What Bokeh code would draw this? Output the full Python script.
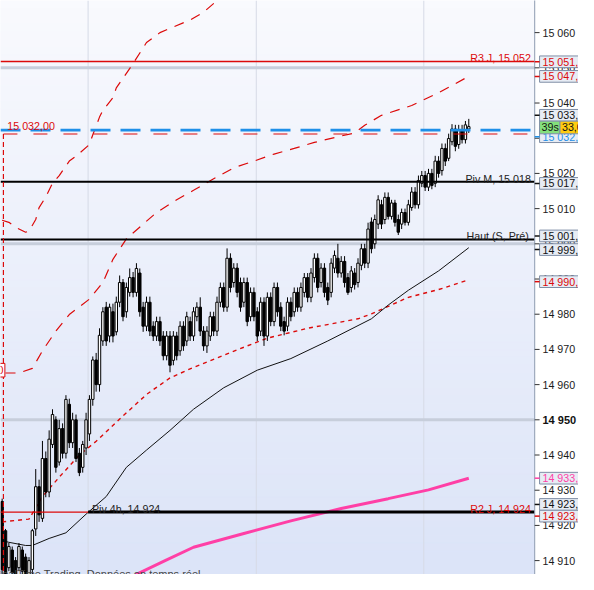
import numpy as np
from bokeh.plotting import figure
from bokeh.models import Range1d
from bokeh.core.properties import value
from bokeh.embed import file_html
from bokeh.resources import INLINE

FONT = value("Liberation Sans")

# ---------------- data ----------------
opens = [14926.8, 14918.5, 14908, 14913, 14910, 14908, 14913, 14911, 14906, 14907.5,
         14919, 14931, 14922, 14939, 14929.5, 14943, 14950, 14938, 14947.5, 14940.5,
         14954.4, 14943.5, 14950, 14940.5, 14936.5, 14942, 14946, 14955.8, 14967, 14960,
         14972.4, 14982, 14973.8, 14980.7, 14975, 14983.4, 14989, 14980.7, 14986.2, 14990.4,
         14986.2, 14991.7, 14982, 14976.6, 14983.4, 14976.6, 14973.8, 14977.9, 14973.8, 14968.2,
         14973.8, 14966.9, 14973.8, 14969.6, 14976.6, 14972.4, 14977.9, 14973.8, 14979.3, 14982,
         14975.2, 14971, 14973.8, 14979.3, 14975.2, 14983.4, 14987.6, 14982, 14995.9, 14989,
         14993.1, 14989, 14983.4, 14989, 14979.3, 14986.2, 14980.7, 14975.2, 14983.4, 14973.8,
         14984.8, 14977.9, 14987.6, 14982, 14977.9, 14976.6, 14983.4, 14980.7, 14986.2, 14982,
         14986.2, 14990.4, 14984.8, 14990.4, 14995.9, 14989, 14993.1, 14987.6, 14986.2, 14993.1,
         14995.9, 14991.7, 14995, 14990.4, 14987.6, 14991.7, 14989, 14993.9, 14998.6, 14994.5,
         15006.2, 15000, 15005.6, 15011.1, 15006.9, 15013.2, 15007.8, 15011.6, 15006.9, 15005.6,
         15008.9, 15006.1, 15010.3, 15014.7, 15011.1, 15017.2, 15019.4, 15016.1, 15020, 15017.2,
         15023.5, 15020.8, 15027.1, 15024.3, 15029, 15032.6, 15028.2, 15032.4, 15029.6, 15032.6]
highs = [14927.6, 14919, 14915, 14914, 14911, 14915, 14914, 14912, 14911, 14919,
         14936, 14933, 14944, 14941, 14947, 14953, 14951, 14950, 14949, 14957,
         14956, 14952, 14951.5, 14942, 14944, 14952, 14957, 14968, 14969, 14976,
         14982, 14983.5, 14983, 14983, 14985, 14991, 14990, 14989, 14993, 14992,
         14994.5, 14993, 14983.5, 14985, 14985, 14978, 14979.3, 14979.3, 14975.2, 14975.2,
         14975.2, 14975.2, 14975, 14978, 14978, 14980.7, 14979.3, 14982, 14983.4, 14984.8,
         14976.6, 14976.6, 14980.7, 14980.7, 14985, 14989, 14989, 14998.7, 14997.3, 14994.5,
         14994.5, 14990.4, 14990.4, 14990.4, 14987.6, 14987.6, 14982, 14984.8, 14984.8, 14986.2,
         14986.2, 14989, 14989, 14983.4, 14979.3, 14984.8, 14984.8, 14987.6, 14987.6, 14989,
         14991.7, 14991.7, 14993.1, 14997.3, 14997.3, 14994.5, 14994.5, 14989, 14995.9, 14998.1,
         15000, 14996.5, 14996.5, 14991.7, 14993.7, 14993.1, 14995.9, 15000, 15000, 15006,
         15007.5, 15008.3, 15013.8, 15012.5, 15014.6, 15014.6, 15012.5, 15012.5, 15008.3, 15010,
         15010, 15012.5, 15016.1, 15016.1, 15019.4, 15020.7, 15020.7, 15021.3, 15021.3, 15025,
         15024.9, 15028.5, 15028.5, 15031.3, 15034, 15033.8, 15033.8, 15033.8, 15034.9, 15035.5]
lows = [14905.5, 14905, 14907, 14905.5, 14905, 14907, 14905, 14905, 14905, 14906,
        14917, 14921, 14921, 14928, 14928, 14942, 14935, 14937, 14939, 14939,
        14942, 14942, 14938, 14934, 14935, 14940, 14944, 14954, 14958, 14958,
        14971, 14971, 14972, 14972, 14974, 14982, 14978, 14979, 14985, 14984.8,
        14985, 14979.3, 14975, 14975.2, 14973.8, 14972.4, 14972.4, 14971, 14966.9, 14966.9,
        14963.5, 14965.5, 14966.9, 14968.2, 14969.6, 14971, 14972.4, 14972.4, 14978, 14973.8,
        14969.6, 14969, 14972.4, 14973.8, 14973.8, 14982, 14980.7, 14980.7, 14986.2, 14987.6,
        14984.8, 14980.7, 14982, 14976.6, 14978, 14978, 14972.4, 14973.8, 14971, 14972.4,
        14976.6, 14976.6, 14979.3, 14975.2, 14974, 14975.2, 14978, 14979.3, 14980.7, 14980.7,
        14984.8, 14983.4, 14983.4, 14989, 14986.2, 14987.6, 14984.8, 14982.6, 14984.8, 14991.7,
        14990.4, 14990.4, 14987.6, 14985.5, 14986.2, 14987, 14987.6, 14992.5, 14993.1, 14993.1,
        14997.3, 14998.6, 15004.2, 15004.2, 15005.6, 15006.9, 15006.9, 15004.9, 15002.5, 15004.2,
        15005.2, 15005.2, 15009.4, 15010, 15010, 15016.1, 15015, 15015, 15015.5, 15016.1,
        15018.8, 15019.4, 15022.1, 15023.5, 15028, 15026.3, 15027, 15028.5, 15028.5, 15031.5]
closes = [14907.4, 14906, 14914, 14906.5, 14906, 14914, 14907, 14906, 14910, 14918.5,
          14931, 14923, 14939, 14929.5, 14944.5, 14951.5, 14936.5, 14947.5, 14940.5, 14955.8,
          14943.5, 14950, 14939, 14935, 14943, 14950, 14955.8, 14967, 14960, 14974,
          14980.7, 14972.4, 14982, 14973.8, 14983.4, 14989, 14979.3, 14987.6, 14990.4, 14986.2,
          14993, 14980.7, 14976.6, 14983.4, 14975.2, 14973.8, 14977.9, 14972.4, 14968.2, 14973.8,
          14965.5, 14973.8, 14968.2, 14976.6, 14971, 14979.3, 14973.8, 14980.7, 14982, 14975.2,
          14971, 14975.2, 14979.3, 14975.2, 14983.4, 14987.6, 14982, 14995.9, 14987.6, 14993.1,
          14986.2, 14982, 14989, 14977.9, 14986.2, 14979.3, 14973.8, 14983.4, 14973.8, 14984.8,
          14977.9, 14987.6, 14980.7, 14976.6, 14975.2, 14983.4, 14979.3, 14986.2, 14982, 14987.6,
          14990.4, 14984.8, 14991.7, 14995.9, 14987.6, 14993.1, 14986.2, 14984, 14994.5, 14996.7,
          14991.7, 14995, 14989, 14986.2, 14992.3, 14988.4, 14994.5, 14998.6, 14994.5, 15004.2,
          14998.6, 15006.9, 15012.5, 15005.6, 15013.2, 15007.8, 15011.6, 15006.1, 15003.3, 15008.9,
          15006.1, 15011.1, 15014.7, 15011.1, 15018, 15019.4, 15016.1, 15020, 15016.6, 15023.5,
          15020, 15027.1, 15023.5, 15029.9, 15032.6, 15027.7, 15032.4, 15029.6, 15033.8, 15033.3]

# indicator curves (candle index, price)
upper_idx = [0, 2, 4, 7, 8, 10, 11, 13, 15, 17, 20, 22, 26, 27, 29, 30, 33, 34, 39, 43, 47, 49, 56, 60, 64]
upper_val = [15006.7, 15006.1, 15004.7, 15003.3, 15003.6, 15006.9, 15010.3, 15013.3, 15017.2, 15019.4,
             15023.5, 15024.9, 15028.2, 15031.0, 15036.0, 15037.9, 15041.5, 15044.3, 15051.2, 15057.2,
             15060.0, 15060.8, 15063.6, 15065.8, 15069.1]
middle_idx = [1, 5, 9, 12, 16, 20, 26, 30, 33, 37, 42, 46, 52, 57, 63, 69, 75, 81, 87, 93, 99, 105, 108,
              113, 122, 130, 139]
middle_val = [14963.3, 14963.3, 14964.6, 14969.6, 14975.2, 14979.9, 14984.3, 14989.0, 14995.6, 15001.4,
              15005.6, 15008.9, 15012.5, 15015.2, 15018.5, 15021.6, 15023.5, 15025.5, 15027.1, 15028.8,
              15030.2, 15031.5, 15033.7, 15036.5, 15039.3, 15042.9, 15047.6]
lower_idx = [0, 8, 12, 17, 23, 28, 36, 43, 50, 57, 73, 79, 91, 106, 110, 121, 130, 139]
lower_val = [14921.0, 14921.8, 14928.2, 14933.7, 14940.0, 14943.9, 14951.1, 14957.2, 14961.9, 14964.9,
             14971.0, 14973.2, 14976.0, 14978.7, 14980.1, 14984.8, 14987.0, 14989.8]
ma_idx = [0, 2, 7, 9, 14, 19, 25, 31, 37, 43, 50, 57, 66, 76, 86, 97, 110, 115, 121, 130, 139]
ma_val = [14915.7, 14915.2, 14914.3, 14914.3, 14916.3, 14917.9, 14923.2, 14928.2, 14936.5, 14941.4,
          14947.0, 14953.0, 14959.1, 14964.1, 14967.4, 14972.4, 14978.7, 14982.6, 14986.8, 14992.3, 14998.9]
pink_idx = [36, 40, 49, 57, 72, 86, 101, 115, 127, 139]
pink_val = [14903.5, 14906.1, 14910.2, 14913.8, 14917.7, 14921.3, 14924.8, 14927.6, 14930.1, 14933.4]

# horizontal levels
r3_j = 15051.8
blue_level = 15032.3
red_dash_level = 15031.2
piv_m = 15017.6
haut_s_pre = 15001.2
piv_4h = 14923.8
r2_j = 14923.8
round_levels = [15050, 15000, 14950]
session_starts = [25.6, 75.7, 125.6]

tick_vals = [15060, 15050, 15040, 15030, 15020, 15010, 15000, 14990, 14980, 14970, 14960, 14940, 14930, 14920, 14910]
tick_text = ["15 060", "15 050", "15 040", "15 030", "15 020", "15 010", "15 000", "14 990", "14 980",
             "14 970", "14 960", "14 940", "14 930", "14 920", "14 910"]
bold_tick_val = 14950
bold_tick_text = "14 950"

box_text = ["15 051,8", "15 047,6", "15 033,3", "15 032,0", "15 017,6", "15 001,2", "14 999,5",
            "14 990,5", "14 933,4", "14 923,8", "14 923,8"]

# ---------------- layout helpers (reference pixel -> data) ----------------
RED = "#dc0a0a"
PINK = "#ff3fa6"
BLUE = "#1e8fe8"
def X(px):
    return (px - 1.7) / 3.45
def Y(py):
    return 14950 + (431 - py) / 3.618

W, H = 578, 574
p = figure(width=W, height=H, output_backend="svg", toolbar_location=None,
           x_range=Range1d(X(0), X(594)), y_range=Range1d(Y(590), Y(0)),
           min_border=0, x_axis_location=None, y_axis_location=None)
p.grid.visible = False
p.outline_line_color = None
p.background_fill_color = "white"
p.border_fill_color = "white"

# background gradient in plot area
nb = 74
edges = np.linspace(0, 590, nb + 1)
c0 = np.array([249, 250, 254.0]); c1 = np.array([220, 228, 248.0])
cols = []
for k in range(nb):
    t = k / (nb - 1)
    c = (c0 * (1 - t) + c1 * t).astype(int)
    cols.append("#%02x%02x%02x" % tuple(c))
p.quad(left=X(0), right=X(549), top=[Y(e) for e in edges[:-1]], bottom=[Y(e) for e in edges[1:]],
       fill_color=cols, line_color=cols, line_width=1)

# session separators
p.segment(x0=session_starts, y0=Y(590), x1=session_starts, y1=Y(0), line_color="#d6dbe6", line_width=1)
# round-number lines
p.segment(x0=X(0), y0=round_levels, x1=X(554), y1=round_levels, line_color="#c7cedb", line_width=3)

# indicator curves
p.line(upper_idx, upper_val, line_color=RED, line_width=1.2, line_dash="10 8")
p.line(middle_idx, middle_val, line_color=RED, line_width=1.2, line_dash="10 8")
p.line(lower_idx, lower_val, line_color=RED, line_width=1.4, line_dash="4 4")
p.line(ma_idx, ma_val, line_color="#111111", line_width=1)
p.line(pink_idx, pink_val, line_color=PINK, line_width=3)

# candles
idx = np.arange(len(opens))
o = np.array(opens); c = np.array(closes)
up = c >= o
p.segment(x0=idx, y0=lows, x1=idx, y1=highs, line_color="black", line_width=1)
p.vbar(x=idx[up], width=0.72, top=c[up], bottom=o[up], fill_color="white", line_color="black", line_width=1)
p.vbar(x=idx[~up], width=0.72, top=o[~up], bottom=c[~up], fill_color="black", line_color="black", line_width=1)

# level lines
p.segment(x0=X(0), y0=r3_j, x1=X(554), y1=r3_j, line_color=RED, line_width=1.3)
p.segment(x0=X(0), y0=r2_j, x1=X(554), y1=r2_j, line_color=RED, line_width=1.3)
p.segment(x0=X(90), y0=piv_4h, x1=X(549), y1=piv_4h, line_color="black", line_width=3)
p.segment(x0=X(0), y0=piv_m, x1=X(549), y1=piv_m, line_color="black", line_width=2)
p.segment(x0=X(0), y0=haut_s_pre, x1=X(549), y1=haut_s_pre, line_color="black", line_width=2)
p.segment(x0=X(3), y0=red_dash_level, x1=X(549), y1=red_dash_level, line_color=RED, line_width=1.2,
          line_dash="14 16")
p.segment(x0=X(3), y0=red_dash_level, x1=X(3), y1=Y(592), line_color=RED, line_width=1.2, line_dash="5 3")
p.segment(x0=X(0), y0=blue_level, x1=X(549), y1=blue_level, line_color=BLUE, line_width=2.6,
          line_dash="20 10")

# left cut-off label box
p.quad(left=X(-60), right=X(4.5), top=Y(373), bottom=Y(387), fill_color="white", line_color=RED, line_width=1)
p.text(x=[X(3)], y=[Y(380)], text=["14 964,0"], text_align="right", text_baseline="middle",
       text_font=FONT, text_font_size="10.7px", text_color=RED)

# chart labels
lab = dict(text_font=FONT, text_font_size="10.7px", text_baseline="alphabetic")
p.text(x=[X(545)], y=[Y(59.5)], text=["R3 J, 15 052"], text_align="right", text_color=RED, **lab)
p.text(x=[X(7)], y=[Y(129)], text=["15 032,00"], text_align="left", text_color=RED, **lab)
p.text(x=[X(545)], y=[Y(183.5)], text=["Piv M, 15 018"], text_align="right", text_color="#222222", **lab)
p.text(x=[X(543)], y=[Y(242.5)], text=["Haut (S, Pré)"], text_align="right", text_color="#222222", **lab)
p.text(x=[X(94)], y=[Y(522.5)], text=["Piv 4h, 14 924"], text_align="left", text_color="#222222", **lab)
p.text(x=[X(545)], y=[Y(522.5)], text=["R2 J, 14 924"], text_align="right", text_color=RED, **lab)
p.text(x=[X(-24)], y=[Y(583.5)], text=["ProRealTime Trading. Données en temps réel"], text_align="left",
       text_baseline="top", text_font=FONT, text_font_size="11px", text_color="#444444")

# right price axis
p.quad(left=X(549), right=X(600), top=Y(-5), bottom=Y(600), fill_color="white", line_color=None)
p.segment(x0=X(549), y0=Y(-5), x1=X(549), y1=Y(600), line_color="#8d9bb0", line_width=1)
p.segment(x0=X(549), y0=tick_vals, x1=X(554), y1=tick_vals, line_color="#333333", line_width=1)
p.segment(x0=X(549), y0=[bold_tick_val], x1=X(554), y1=[bold_tick_val], line_color="#333333", line_width=1)
p.text(x=X(557), y=tick_vals, text=tick_text, text_align="left", text_baseline="middle",
       text_font=FONT, text_font_size="10.7px", text_color="#1a1a1a")
p.text(x=[X(557)], y=[bold_tick_val], text=[bold_tick_text], text_align="left", text_baseline="middle",
       text_font=FONT, text_font_size="11px", text_font_style="bold", text_color="#111111")

# price boxes on the axis
box_py = [63, 78, 118, 140, 188, 242, 256, 289, 491, 518, 530]
box_col = [RED, RED, "#111111", BLUE, "#111111", "#111111", "#111111", RED, PINK, "#111111", RED]
for t, py, col in zip(box_text, box_py, box_col):
    p.quad(left=X(554), right=X(600), top=Y(py - 6), bottom=Y(py + 6), fill_color="#e7ecf4",
           line_color="#7f8ea6", line_width=1)
    p.segment(x0=X(549), y0=Y(py), x1=X(554), y1=Y(py), line_color=col, line_width=1.5)
    p.text(x=[X(557)], y=[Y(py)], text=[t], text_align="left", text_baseline="middle",
           text_font=FONT, text_font_size="10.7px", text_color=col)
# countdown / last price box
p.quad(left=X(554), right=X(575), top=Y(124), bottom=Y(137), fill_color="#84e07c", line_color="#7f8ea6")
p.quad(left=X(575), right=X(600), top=Y(124), bottom=Y(137), fill_color="#ffcc11", line_color="#7f8ea6")
p.text(x=[X(556), X(577)], y=[Y(130.5), Y(130.5)], text=["39s", "33,0"], text_align="left",
       text_baseline="middle", text_font=FONT, text_font_size="10.7px", text_color="#111111")

open("out.html", "w").write(file_html(p, INLINE))
